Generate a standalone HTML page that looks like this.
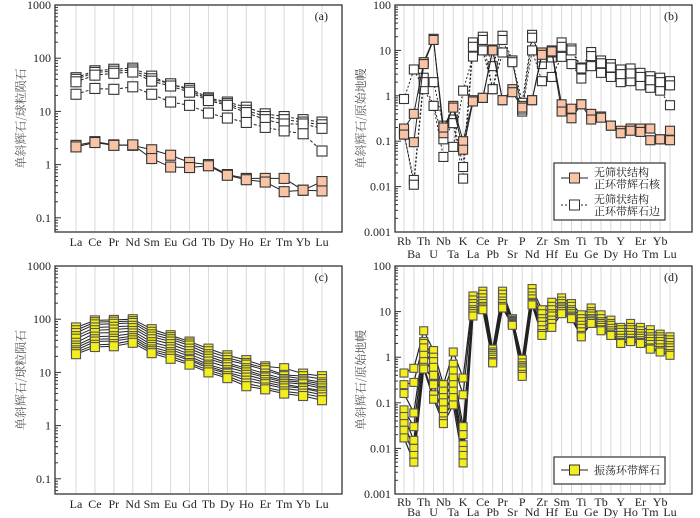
<!DOCTYPE html>
<html><head><meta charset="utf-8">
<style>
body{margin:0;background:#fff;}
svg{display:block;font-family:"Liberation Serif","Noto Serif CJK SC",serif;}
</style></head>
<body>
<svg id="fig" width="700" height="518" viewBox="0 0 700 518" xmlns="http://www.w3.org/2000/svg"></svg>
<script>
const reeCats = ["La","Ce","Pr","Nd","Sm","Eu","Gd","Tb","Dy","Ho","Er","Tm","Yb","Lu"];
const spiderCats = ["Rb","Ba","Th","U","Nb","Ta","K","La","Ce","Pb","Pr","Sr","P","Nd","Zr","Hf","Sm","Eu","Ti","Ge","Tb","Dy","Y","Ho","Er","Tm","Yb","Lu"];

const aRims = [
 [43,58,62,65,46,32,27,18,15,12,9,8,7,6.3],
 [40,54,57,60,41,33,25,17,14,10.5,8,7,6.3,5.6],
 [36,48,52,55,37,30,23,16,13,9.5,7,5.8,5.8,4.8],
 [21,27,26,29,21,15,13,9.3,7.5,6.2,5,4.3,3.8,1.8]
];
const aCores = [
 [2.3,2.7,2.35,2.3,1.9,1.5,1.1,1.0,0.65,0.55,0.55,0.55,0.33,0.48],
 [2.15,2.6,2.3,2.35,1.3,0.9,0.88,0.95,0.63,0.52,0.47,0.31,0.33,0.32]
];
const bCores = [
 [0.19,0.4,5.5,18,0.15,0.6,0.1,0.8,0.9,10.5,0.8,1.4,0.6,0.8,9,10,0.65,0.52,0.65,0.4,0.35,0.22,0.17,0.19,0.19,0.19,0.11,0.17],
 [0.14,0.095,5,17,0.2,0.55,0.065,0.75,0.9,10,0.8,1.2,0.55,0.8,8,9.5,0.45,0.32,0.65,0.3,0.33,0.22,0.15,0.17,0.16,0.105,0.11,0.105]
];
const bRims = [
 [0.85,3.8,1.4,0.6,0.045,0.075,1.3,7.3,10,1.4,9,6,0.45,10,2.1,2.6,7.2,5,2.4,4.5,3.2,2.6,2,2.1,1.7,1.5,1.3,0.62],
 [0.14,0.014,2.5,2,0.22,0.3,0.027,15,20,4.5,21,6,0.7,22,5,7,15,11,4.2,9.2,6,5,3.8,4,3.2,2.7,2.5,2.1],
 [0.16,0.011,2,0.6,0.11,0.25,0.015,12,17,1.4,17,5.5,0.5,19,7,9,12,10,4,7.5,5.2,4.2,3,3.1,2.6,2.2,2,1.7]
];
const cSeries = [
 [70,95,97,100,65,50,38,28,21,17,13,12,9.5,8.5],
 [62,88,90,92,58,46,35,25,19,15,12,9,8.5,7.5],
 [55,80,82,85,52,42,32,22,17,14,11,8.5,7.5,6.5],
 [48,70,72,75,47,38,28,20,15,12,9.5,7.5,7,6],
 [43,62,64,68,42,34,25,18,14,11,8.5,7,6.5,5.5],
 [36,55,56,60,37,30,22,16,12.5,10,8,6.5,6,5],
 [32,47,48,54,33,27,20,14,11,9,7.2,6,5.2,4.5],
 [29,42,43,48,30,24,18,13,10,8,6.5,5.5,5,4.2],
 [26,38,39,44,27,22,17,12,9.5,7,6,5,4.5,3.8],
 [24,33,34,40,25,20,15,11,8.5,6.2,5.2,4.4,4,3.4],
 [22,30,31,36,23,18,14,10,7.8,5.5,4.8,4,3.6,3]
];
const dSeries = [
 [0.45,0.57,3.8,1.4,0.25,1.3,0.35,22,28,1.5,28,7,0.9,32,11,16,20,15,8.5,12,8.5,6.5,4.5,5.5,4.5,4,3.2,2.8],
 [0.25,0.28,2.2,1,0.18,0.7,0.15,18,24,1.3,24,6.5,0.75,26,9,13,17,13,7,10,7,5.5,4,4.5,3.8,3.3,2.8,2.4],
 [0.16,0.06,2,0.8,0.13,0.5,0.03,15,20,1.2,20,6.2,0.65,22,7,11,15,11,6,9,6,5,3.5,4,3.3,2.8,2.5,2.1],
 [0.07,0.03,1.6,0.6,0.1,0.35,0.02,13,17,1.1,17,6,0.6,19,6,9,13,10,5,8,5.5,4.3,3,3.5,2.9,2.5,2.2,1.8],
 [0.05,0.015,1.1,0.4,0.07,0.25,0.012,11,15,1,15,5.8,0.55,16,5,8,12,9,4.3,7,5,3.8,2.6,3,2.6,2.2,1.9,1.6],
 [0.035,0.01,0.8,0.25,0.05,0.18,0.009,10,13,0.9,13,5.5,0.5,15,4,6.5,11,8,3.6,6.5,4.5,3.4,2.3,2.6,2.3,1.9,1.6,1.4],
 [0.025,0.007,0.6,0.15,0.04,0.13,0.007,9,12,0.8,12,5.2,0.42,14,3.3,5.5,10,7.5,3,6,4,3.1,2.1,2.3,2.1,1.6,1.4,1.2],
 [0.017,0.005,0.55,0.12,0.035,0.09,0.0048,8,11,0.75,12,5,0.38,14,3,4.5,9,7,2.8,5.5,3.8,3,2,2.2,2,1.5,1.3,1.1]
];
const reeTicks = ["1000","100","10","1","0.1"];
const spiderTicks = ["100","10","1","0.1","0.01","0.001"];

const NS="http://www.w3.org/2000/svg";
const svg=document.getElementById('fig');
function mk(tag,attrs,parent){const e=document.createElementNS(NS,tag);for(const k in attrs)e.setAttribute(k,attrs[k]);(parent||svg).appendChild(e);return e;}

function panel(p){
  const g=mk('g',{});
  
  
  const n=p.cats.length;
  const xs=i=>p.x0+(p.x1-p.x0)*i/(n-1);
  const ys=v=>p.yTop+(p.maxExp-Math.log10(v))*p.dec;
  for(let i=0;i<n;i++){
    const l=mk('line',{x1:xs(i),x2:xs(i),y1:p.top+1,y2:p.bot-1,stroke:'#d8d8d8','stroke-width':1},g);
    
    
  }
  const fr=mk('rect',{x:p.L,y:p.top,width:p.R-p.L,height:p.bot-p.top,fill:'none',stroke:'#333','stroke-width':1.3},g);
  
  
  for(let k=0;k<p.ticks.length;k++){
    const e=p.maxExp-k;const y=ys(Math.pow(10,e));
    mk('line',{x1:p.L,x2:p.L+6,y1:y,y2:y,stroke:'#333'},g);
    const t=mk('text',{x:p.L-4,y:y+4,'text-anchor':'end','font-size':12,fill:'#222'},g);
    t.textContent=p.ticks[k];
    
    
    for(let m=2;m<10;m++){
      const yy=ys(m*Math.pow(10,e-1));
      if(yy<p.bot&&yy>p.top) mk('line',{x1:p.L,x2:p.L+3,y1:yy,y2:yy,stroke:'#333'},g);
    }
  }
  for(let i=0;i<n;i++){
    const row=p.twoRow?(i%2):0;
    const t=mk('text',{x:xs(i),y:p.bot+p.r1+row*p.r2,'text-anchor':'middle','font-size':12,fill:'#222'},g);
    t.textContent=p.cats[i];
    
    
  }
  const yt=mk('text',{x:0,y:0,'text-anchor':'middle','font-size':12,fill:'#555',transform:`translate(${p.L-30},${(p.top+p.bot)/2}) rotate(-90)`,'font-family':'"Noto Serif CJK SC","Noto Sans CJK SC",serif'},g);
  yt.textContent=p.ytitle;
  
  
  const pl=mk('text',{x:p.R-14,y:p.top+15,'text-anchor':'end','font-size':12,fill:'#222'},g);
  pl.textContent=p.label;
  
  
  p.groups.forEach(gr=>{
    gr.data.forEach(arr=>{
      const pts=arr.map((v,i)=>xs(i)+','+ys(v)).join(' ');
      const line=mk('polyline',{points:pts,fill:'none',stroke:'#222','stroke-width':gr.lw||1,'stroke-dasharray':gr.dash||'none'},g);
      
      
    });
    gr.data.forEach(arr=>{
      arr.forEach((v,i)=>{
        const s=gr.size;
        const r=mk('rect',{x:xs(i)-s/2,y:ys(v)-s/2,width:s,height:s,fill:gr.fill,stroke:gr.stroke,'stroke-width':1.1},g);
        
        
      });
    });
  });
  return g;
}

panel({name:'panel-a',cats:reeCats,L:55,R:342,top:5,bot:232,x0:76,x1:322,yTop:5,maxExp:3,dec:53.2,ticks:reeTicks,r1:14,r2:0,ytitle:'单斜辉石/球粒陨石',label:'(a)',
  groups:[{name:'rim',data:aRims,fill:'#fff',stroke:'#333',size:10,dash:'3,2'},{name:'core',data:aCores,fill:'#f9c4a6',stroke:'#333',size:10}]});
panel({name:'panel-b',cats:spiderCats,twoRow:true,L:395,R:692,top:5,bot:232,x0:404,x1:670,yTop:5,maxExp:2,dec:45.4,ticks:spiderTicks,r1:13,r2:13,ytitle:'单斜辉石/原始地幔',label:'(b)',
  groups:[{name:'rim',data:bRims,fill:'#fff',stroke:'#333',size:9,dash:'2,2'},{name:'core',data:bCores,fill:'#f9c4a6',stroke:'#333',size:9}]});
panel({name:'panel-c',cats:reeCats,L:55,R:342,top:266,bot:494,x0:76,x1:322,yTop:266,maxExp:3,dec:53.2,ticks:reeTicks,r1:14,r2:0,ytitle:'单斜辉石/球粒陨石',label:'(c)',
  groups:[{name:'oscillatory',data:cSeries,fill:'#f4ee1a',stroke:'#555',size:9}]});
panel({name:'panel-d',cats:spiderCats,twoRow:true,L:395,R:692,top:266,bot:494,x0:404,x1:670,yTop:266,maxExp:2,dec:45.6,ticks:spiderTicks,r1:12,r2:10,ytitle:'单斜辉石/原始地幔',label:'(d)',
  groups:[{name:'oscillatory',data:dSeries,fill:'#f4ee1a',stroke:'#555',size:8,lw:1.2}]});

function legendBox(x,y,w,h,name){const r=mk('rect',{x:x,y:y,width:w,height:h,fill:'#fff',stroke:'#333','stroke-width':1.2});}
function legEntry(y,fill,dash,lines,name){
  const g=mk('g',{});
  
  
  mk('line',{x1:561,x2:588,y1:y,y2:y,stroke:'#222','stroke-dasharray':dash||'none'},g);
  mk('rect',{x:569.5,y:y-5,width:10,height:10,fill:fill,stroke:'#333'},g);
  lines.forEach((s,i)=>{const t=mk('text',{x:594,y:y+4+(i-(lines.length-1)/2)*12,'font-size':11,fill:'#222','font-family':'"Noto Serif CJK SC","Noto Sans CJK SC",serif'},g);t.textContent=s;});
}
legendBox(554,163,111,57,'legend-b');
legEntry(178,'#f9c4a6',null,['无筛状结构','正环带辉石核'],'legend-entry-core');
legEntry(205,'#fff','2,2',['无筛状结构','正环带辉石边'],'legend-entry-rim');
legendBox(554,457,111,27,'legend-d');
legEntry(470,'#f4ee1a',null,['振荡环带辉石'],'legend-entry-oscillatory');
</script>
</body></html>
